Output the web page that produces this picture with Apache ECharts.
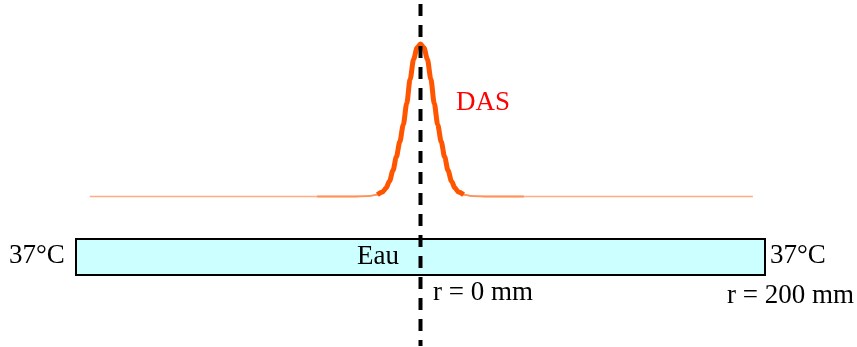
<!DOCTYPE html>
<html>
<head>
<meta charset="utf-8">
<title>DAS</title>
<script src="https://cdn.jsdelivr.net/npm/echarts@6/dist/echarts.min.js"></script>
<style>
  html, body { margin: 0; padding: 0; background: #ffffff; }
  #chart { width: 857px; height: 347px; }
</style>
</head>
<body>
<div id="chart"></div>
<script>
// Radial position (mm) and normalised specific absorption rate (DAS)
const radius = [-192, -60, -40, -30, -25, -22, -20, -18, -16, -14, -12, -10, -8, -6, -4, -2, 0,
                2, 4, 6, 8, 10, 12, 14, 16, 18, 20, 22, 25, 30, 40, 60, 193];
const das = [0, 0, 0, 0.003, 0.012, 0.03, 0.055, 0.10, 0.17, 0.26, 0.36, 0.47, 0.61, 0.77, 0.90, 0.975, 1,
             0.975, 0.90, 0.77, 0.61, 0.47, 0.36, 0.26, 0.17, 0.10, 0.055, 0.03, 0.012, 0.003, 0, 0, 0];

// Water layer spans the whole radius range
const waterRange = [-200, 200];
const axisR = 0;

const labels = {
  curve: 'DAS',
  water: 'Eau',
  tempLeft: '37°C',
  tempRight: '37°C',
  rCentre: 'r = 0 mm',
  rEdge: 'r = 200 mm'
};

const pts = radius.map((r, i) => [r, das[i]]);
const within = lim => pts.filter(p => Math.abs(p[0]) <= lim);

const serif = '"Liberation Serif", "Times New Roman", serif';
const font = '27px ' + serif;
const chart = echarts.init(document.getElementById('chart'), null, { renderer: 'canvas' });

const txt = (text, left, top, fill) => ({
  type: 'text', left, top, z: 100, zlevel: 1,
  style: { text, fill: fill || '#000000', font }
});

chart.setOption({
  animation: false,
  backgroundColor: '#ffffff',
  grid: { left: 76, right: 92, top: 4, bottom: 1 },
  xAxis: { type: 'value', min: -200, max: 200, show: false },
  yAxis: { type: 'value', min: -0.98, max: 1.262, show: false },
  series: [
    {
      // water layer
      type: 'line', data: [], silent: true,
      markArea: {
        silent: true,
        itemStyle: { color: '#ccffff', borderColor: '#000000', borderWidth: 2 },
        data: [[{ coord: [waterRange[0], -0.279] }, { coord: [waterRange[1], -0.515] }]]
      }
    },
    {
      type: 'line', data: pts, symbol: 'none', smooth: 0.3, smoothMonotone: 'x',
      lineStyle: { color: '#ffad85', width: 1.5 }, z: 3
    },
    {
      type: 'line', data: within(60), symbol: 'none', smooth: 0.3, smoothMonotone: 'x',
      lineStyle: { color: '#ff9259', width: 1.8 }, z: 4
    },
    {
      type: 'line', data: within(25), symbol: 'none', smooth: 0.3, smoothMonotone: 'x',
      lineStyle: { color: '#ff5500', width: 5 }, z: 5
    },
    {
      // symmetry axis r = 0
      type: 'line', data: [[axisR, 1.262], [axisR, -0.98]], symbol: 'none',
      lineStyle: { color: '#000000', width: 4, type: [12, 9] }, z: 6
    }
  ],
  graphic: [
    txt(labels.curve, 456, 89, '#ff0000'),
    txt(labels.water, 357, 243),
    txt(labels.tempLeft, 9, 242),
    txt(labels.tempRight, 770, 242),
    txt(labels.rCentre, 433, 279),
    txt(labels.rEdge, 727, 282)
  ]
});
</script>
</body>
</html>
